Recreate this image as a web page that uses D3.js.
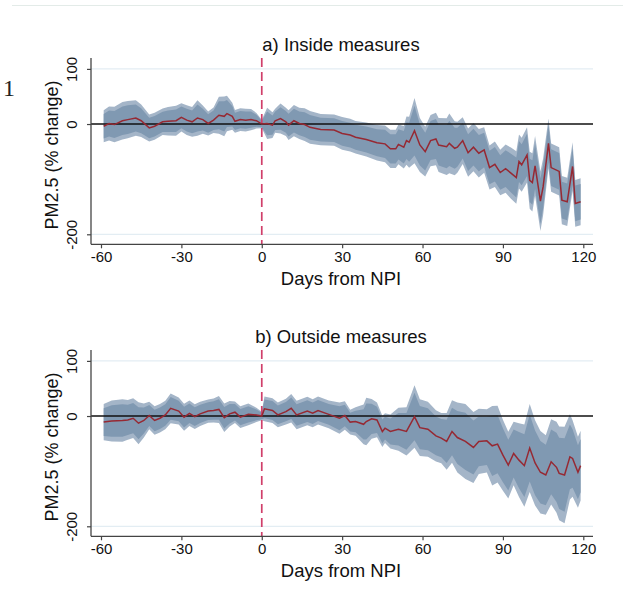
<!DOCTYPE html>
<html>
<head>
<meta charset="utf-8">
<script src="https://cdn.jsdelivr.net/npm/d3@7"></script>
<style>
  body { margin: 0; background: #fff; }
  svg { display: block; font-family: "Liberation Sans", Arial, sans-serif; }
</style>
</head>
<body>
<svg class="chart" width="623" height="612"></svg>
<script>
// panel a) inside measures
const daysA = [-59, -57, -55, -52, -50, -47, -45, -42, -40, -37, -35, -32, -30, -28, -26, -24, -22, -20, -18, -16, -14, -13, -11, -10, -8, -6, -4, -2, 0, 2, 4, 5, 7, 9, 10, 12, 14, 16, 18, 22, 27, 30, 33, 35, 39, 43, 46, 48, 50, 51, 53, 54, 55, 57, 59, 61, 63, 65, 66, 69, 70, 72, 73, 75, 77, 79, 81, 83, 85, 87, 89, 91, 93, 95, 96, 97, 99, 100, 101, 102, 104, 105, 107, 108, 111, 112, 114, 116, 117, 119];
const estA = [-4, 1, -1, 6, 8, 11, 6, -7, -4, 4, 5, 6, 12, 7, 4, 11, 8, 1, 7, 16, 14, 19, 14, 5, 8, 7, 8, 6, 0, 1, -2, 6, 10, 4, -2, 6, 1, -1, -6, -10, -11, -17, -20, -24, -28, -34, -36, -45, -45, -37, -42, -30, -33, -12, -38, -50, -30, -27, -38, -41, -35, -44, -42, -30, -52, -42, -53, -47, -79, -73, -88, -81, -89, -97, -68, -74, -56, -102, -106, -76, -140, -114, -35, -79, -86, -138, -141, -77, -144, -141];
const seA = [11.3, 12, 12.5, 13.2, 13.2, 12.5, 11.5, 9.5, 9.5, 9.3, 10, 10.5, 10, 10.5, 10.5, 12.5, 10, 8.5, 9, 13, 14, 12.5, 9.5, 8, 8, 8, 7.5, 5.5, 3, 11, 9, 8.5, 10.5, 10, 10.5, 11, 11, 11.5, 11.5, 11, 11, 11.5, 11.5, 11.5, 12, 12.5, 13, 13.5, 13.5, 14, 15, 17, 18, 23, 19, 17.5, 18, 18.5, 19, 20, 21, 19, 18, 16.5, 17, 17, 17, 16, 15.5, 16, 16, 17, 18, 18.5, 19, 19, 19.5, 20, 20.5, 21, 21, 20, 17.5, 17, 17, 17, 17, 17, 16.5, 16.5];

// panel b) outside measures
const daysB = [-59, -56, -52, -50, -48, -46, -44, -42, -40, -38, -36, -34, -31, -29, -27, -25, -23, -20, -18, -16, -14, -12, -10, -8, -5, -2, 0, 1, 4, 6, 9, 11, 13, 17, 19, 21, 25, 29, 31, 33, 35, 38, 39, 41, 43, 45, 46, 48, 51, 54, 57, 59, 62, 65, 67, 69, 71, 73, 76, 79, 81, 84, 86, 88, 90, 92, 94, 96, 98, 100, 102, 104, 106, 108, 110, 111, 113, 115, 116, 118, 119];
const estB = [-11, -9, -8, -7, -4, -13, -8, 1, -8, -4, 2, 14, 9, -2, 5, -1, 4, 9, 10, 12, -3, 4, 7, -2, 3, 2, 0, 13, 10, 2, 8, 14, 2, 9, 5, 10, 3, -4, 1, -11, -10, -15, -10, -5, -7, -28, -22, -28, -24, -28, -1, -21, -24, -36, -40, -46, -28, -39, -46, -57, -46, -45, -54, -51, -71, -89, -68, -80, -90, -58, -85, -102, -107, -83, -93, -104, -107, -74, -77, -102, -90];
const seB = [12.8, 14.5, 15, 14, 14, 14.8, 12, 9.7, 10, 10, 10, 10.5, 9.5, 9.5, 9, 8.7, 8.5, 8.2, 8.5, 9.5, 10, 9, 7.6, 7.6, 7.6, 5, 3, 8.7, 8.7, 8.7, 9, 10, 10, 10, 9.9, 9.8, 9.7, 11, 10, 8.7, 10, 14, 16.7, 14, 12.2, 11, 10.5, 12, 15.1, 17, 22, 20, 19.4, 18, 17.7, 20, 22, 24.6, 26.4, 25, 23, 22.3, 28, 27, 25, 23.5, 22.3, 26, 29, 31, 30, 29, 28, 30, 32, 33, 34, 30, 27, 25, 24.6];

const xTicks = [-60, -30, 0, 30, 60, 90, 120];
const yTicks = [100, 0, -200];

const panels = [
  { title: "a) Inside measures", days: daysA, est: estA, se: seA, top: 0 },
  { title: "b) Outside measures", days: daysB, est: estB, se: seB, top: 292 },
];

let svg = d3.select(".chart");

// faint frame line at the top and the stray "1"
svg.append("line")
  .attr("x1", 12).attr("x2", 623).attr("y1", 5.5).attr("y2", 5.5)
  .attr("stroke", "#e3ebe8").attr("stroke-width", 1);
svg.append("text")
  .attr("x", 3).attr("y", 96)
  .style("font-family", "'Liberation Serif', 'DejaVu Serif', serif")
  .style("font-size", "24px")
  .attr("fill", "#222")
  .text("1");

let x = d3.scaleLinear().domain([-60, 120]).range([101, 583.3]);
let plain = (d) => String(d); // hyphen-minus like the original, not U+2212

function drawPanel(p) {
  let y = d3.scaleLinear().domain([-200, 100]).range([234.3 + p.top, 68.9 + p.top]);
  let g = svg.append("g");
  let axisY = 244.3 + p.top;
  let rows = p.days.map((d, i) => ({ day: d, est: p.est[i], se: p.se[i] }));

  // grid lines
  g.selectAll(".grid")
    .data(yTicks.filter((t) => t !== 0))
    .enter()
    .append("line")
    .attr("x1", 91).attr("x2", 593)
    .attr("y1", (d) => y(d)).attr("y2", (d) => y(d))
    .attr("stroke", "#e3edf3").attr("stroke-width", 1.2);

  // confidence bands (99% outer, 95% inner)
  let band = (z) =>
    d3.area()
      .x((d) => x(d.day))
      .y0((d) => y(d.est - z * d.se))
      .y1((d) => y(d.est + z * d.se));

  g.append("path").datum(rows)
    .attr("fill", "#a4b5c8").attr("d", band(2.576));
  g.append("path").datum(rows)
    .attr("fill", "#8099b2").attr("d", band(1.96));

  // zero line
  g.append("line")
    .attr("x1", 91).attr("x2", 593)
    .attr("y1", y(0)).attr("y2", y(0))
    .attr("stroke", "#111").attr("stroke-width", 1.4);

  // NPI day
  g.append("line")
    .attr("x1", x(0)).attr("x2", x(0))
    .attr("y1", 58 + p.top).attr("y2", axisY)
    .attr("stroke", "#d03f6a").attr("stroke-width", 1.7)
    .attr("stroke-dasharray", "9,5");

  // point estimates
  g.append("path").datum(rows)
    .attr("fill", "none")
    .attr("stroke", "#962933").attr("stroke-width", 1.5)
    .attr("d", d3.line().x((d) => x(d.day)).y((d) => y(d.est)));

  // x axis
  let xa = g.append("g")
    .attr("transform", "translate(0," + axisY + ")")
    .call(d3.axisBottom(x).tickValues(xTicks).tickSize(4).tickPadding(3).tickFormat(plain));
  xa.select(".domain").attr("d", "M91,0H593").attr("stroke", "#444").attr("stroke-width", 1.3);
  xa.selectAll(".tick line").attr("stroke", "#444").attr("stroke-width", 1.2);
  xa.selectAll(".tick text")
    .style("font-size", "15px").attr("fill", "#111")
    .style("font-family", "'Liberation Sans', Arial, sans-serif");

  // y axis, labels turned vertical
  let ya = g.append("g")
    .attr("transform", "translate(91,0)")
    .call(d3.axisLeft(y).tickValues(yTicks).tickSize(4).tickPadding(4).tickFormat(plain));
  ya.select(".domain").attr("d", "M0," + (58 + p.top) + "V" + axisY).attr("stroke", "#444").attr("stroke-width", 1.3);
  ya.selectAll(".tick line").attr("stroke", "#444").attr("stroke-width", 1.2);
  ya.selectAll(".tick text")
    .attr("x", 0).attr("y", -14).attr("dy", 0)
    .attr("transform", "rotate(-90)")
    .style("text-anchor", "middle")
    .style("font-size", "15px").attr("fill", "#111")
    .style("font-family", "'Liberation Sans', Arial, sans-serif");

  // titles
  g.append("text")
    .attr("x", 341).attr("y", 51 + p.top)
    .style("text-anchor", "middle").style("font-size", "18.5px").attr("fill", "#111")
    .text(p.title);
  g.append("text")
    .attr("x", 341).attr("y", 284.5 + p.top)
    .style("text-anchor", "middle").style("font-size", "18.5px").attr("fill", "#111")
    .text("Days from NPI");
  g.append("text")
    .attr("transform", "translate(58," + (155 + p.top) + ") rotate(-90)")
    .style("text-anchor", "middle").style("font-size", "18px").attr("fill", "#111")
    .text("PM2.5 (% change)");
}

panels.forEach(drawPanel);
</script>
</body>
</html>
